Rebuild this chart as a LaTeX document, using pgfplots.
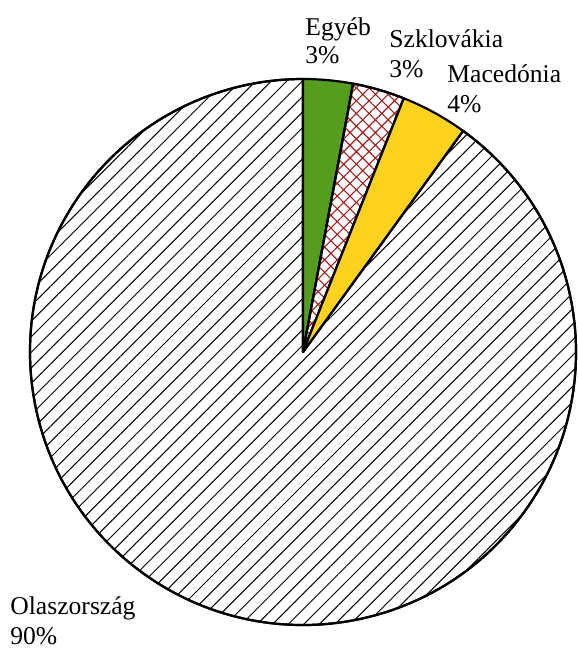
\documentclass[border=0pt]{standalone}
\usepackage{pgfplots}
\pgfplotsset{compat=1.18}
\usetikzlibrary{patterns.meta}
\usepackage{fontspec}
\setmainfont{Liberation Serif}
\definecolor{pgreen}{RGB}{86,157,31}
\definecolor{pyellow}{RGB}{255,210,32}
\definecolor{pred}{RGB}{165,30,30}
\begin{document}
\begin{tikzpicture}
\def\R{136.5pt}
% shares in percent
\def\pA{2.94}  % Egyéb
\def\pB{3.08}  % Szlovákia
\def\pC{3.95}  % Macedónia
\def\pD{90.03} % Olaszország
\pgfmathsetmacro{\sA}{90}
\pgfmathsetmacro{\sB}{\sA-3.6*\pA}
\pgfmathsetmacro{\sC}{\sB-3.6*\pB}
\pgfmathsetmacro{\sD}{\sC-3.6*\pC}
\pgfmathsetmacro{\dA}{-3.6*\pA}
\pgfmathsetmacro{\dB}{-3.6*\pB}
\pgfmathsetmacro{\dC}{-3.6*\pC}
\pgfmathsetmacro{\dD}{-3.6*\pD}
\begin{axis}[x=\R, y=\R, xmin=-1.1099, xmax=1.0073, ymin=-1.0842, ymax=1.2894,
  hide axis, clip=false, scale only axis]
\addplot[mark=none, draw=black, line width=1.1pt, line join=round, preaction={fill=white},
  pattern={Lines[angle=45,distance=5.5pt,line width=0.5pt]}, pattern color=black]
  coordinates {(0,0)} -- ++(\sD:\R) arc[start angle=\sD, delta angle=\dD, radius=\R] -- cycle;
\addplot[mark=none, draw=black, line width=1.1pt, line join=round, fill=pgreen]
  coordinates {(0,0)} -- ++(\sA:\R) arc[start angle=\sA, delta angle=\dA, radius=\R] -- cycle;
\addplot[mark=none, draw=black, line width=1.1pt, line join=round, preaction={fill=white},
  pattern={Hatch[angle=45,distance=4.5pt,line width=0.55pt]}, pattern color=pred]
  coordinates {(0,0)} -- ++(\sB:\R) arc[start angle=\sB, delta angle=\dB, radius=\R] -- cycle;
\addplot[mark=none, draw=black, line width=1.1pt, line join=round, fill=pyellow]
  coordinates {(0,0)} -- ++(\sC:\R) arc[start angle=\sC, delta angle=\dC, radius=\R] -- cycle;
\coordinate (BL) at (axis cs:-1.1099,-1.0842);
\coordinate (TR) at (axis cs:1.0073,1.2894);
\begin{scope}[every node/.style={anchor=base west, inner sep=0pt, font=\fontsize{12.8}{14}\selectfont}]
\node at (axis cs:0.0073,1.161) {Egyéb};
\node at (axis cs:0.0073,1.0586) {3\%};
\node at (axis cs:0.315,1.1136) {Szklovákia};
\node at (axis cs:0.315,1.0073) {3\%};
\node at (axis cs:0.5275,0.989) {Macedónia};
\node at (axis cs:0.5275,0.879) {4\%};
\node at (axis cs:-1.0733,-0.963) {Olaszország};
\node at (axis cs:-1.0733,-1.073) {90\%};
\end{scope}
\end{axis}
\pgfresetboundingbox
\path[use as bounding box] (BL) rectangle (TR);
\end{tikzpicture}
\end{document}
